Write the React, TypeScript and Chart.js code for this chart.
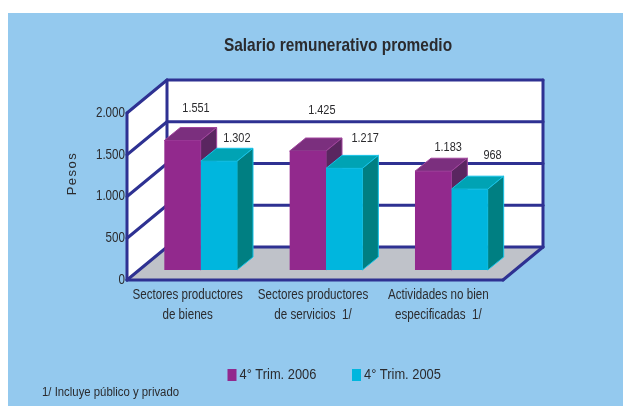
import React, { useEffect, useRef } from "react";
import { Chart, registerables } from "chart.js";

Chart.register(...registerables);

const categories = [
  ["Sectores productores", "de bienes"],
  ["Sectores productores", "de servicios  1/"],
  ["Actividades no bien", "especificadas  1/"],
];
const series2006 = [1551, 1425, 1183];
const series2005 = [1302, 1217, 968];
const label2006 = "4° Trim. 2006";
const label2005 = "4° Trim. 2005";
const titleText = "Salario remunerativo promedio";
const yTitle = "Pesos";
const footnote = "1/ Incluye público y privado";

const FONT = '"Liberation Sans", sans-serif';
const CONDENSE = 0.83;
const INK = "#2b2b2e";
const WALL = "#2e3192";
// depth of the wall box and forward offset of the bars in it
const DX = 40, DY = -33;
const BAR_DX = 11, BAR_DY = -10;
const SIDE_DX = 16, SIDE_DY = -13;
// value label nudges relative to each bar's top centre: [dx, dy]
const labelNudge = [
  [[13.5, -32], [18, -23]],
  [[14, -41], [21, -30]],
  [[15, -24], [23, -34]],
];
const shades = [
  { top: "#7b2f7e", side: "#5a2660" },
  { top: "#00a3b4", side: "#007f82" },
];
const fmt = (v: number) =>
  v >= 1000 ? `${Math.floor(v / 1000)}.${String(v % 1000).padStart(3, "0")}` : String(v);

const poly = (ctx: any, pts: number[][], fill?: string, stroke?: string, w = 1) => {
  ctx.beginPath();
  pts.forEach(([x, y], i) => (i ? ctx.lineTo(x, y) : ctx.moveTo(x, y)));
  ctx.closePath();
  if (fill) { ctx.fillStyle = fill; ctx.fill(); }
  if (stroke) { ctx.strokeStyle = stroke; ctx.lineWidth = w; ctx.stroke(); }
};
const line = (ctx: any, x1: number, y1: number, x2: number, y2: number) => {
  ctx.beginPath(); ctx.moveTo(x1, y1); ctx.lineTo(x2, y2); ctx.stroke();
};

const box3d = {
  id: "box3d",
  beforeDatasetsDraw(chart: any) {
    const { ctx, chartArea: a, scales: { y } } = chart;
    const { left: l, right: r, top: t, bottom: b } = a;
    ctx.save();
    poly(ctx, [[l + DX, t + DY], [r + DX, t + DY], [r + DX, b + DY], [l + DX, b + DY]], "#ffffff");
    poly(ctx, [[l, t], [l + DX, t + DY], [l + DX, b + DY], [l, b]], "#ffffff");
    poly(ctx, [[l, b], [l + DX, b + DY], [r + DX, b + DY], [r, b]], "#bfc2c9");
    ctx.strokeStyle = WALL;
    ctx.lineCap = "round";
    ctx.lineWidth = 3;
    y.ticks.forEach((tk: any) => {
      const py = y.getPixelForValue(tk.value);
      line(ctx, l, py, l + DX, py + DY);
      line(ctx, l + DX, py + DY, r + DX, py + DY);
    });
    line(ctx, l, b, l, t);
    line(ctx, l + DX, b + DY, l + DX, t + DY);
    line(ctx, r + DX, b + DY, r + DX, t + DY);
    line(ctx, l, b, r, b);
    line(ctx, r, b, r + DX, b + DY);
    ctx.restore();
    ctx.save();
    ctx.translate(BAR_DX, BAR_DY);
    chart.data.datasets.forEach((ds: any, di: number) => {
      chart.getDatasetMeta(di).data.forEach((bar: any) => {
        const p = bar.getProps(["x", "y", "base", "width"], true);
        const L = p.x - p.width / 2, R = p.x + p.width / 2;
        poly(ctx, [[L, p.y], [L + SIDE_DX, p.y + SIDE_DY], [R + SIDE_DX, p.y + SIDE_DY], [R, p.y]], shades[di].top, ds.edge, 1);
        poly(ctx, [[R, p.y], [R + SIDE_DX, p.y + SIDE_DY], [R + SIDE_DX, p.base + SIDE_DY], [R, p.base]], shades[di].side, ds.edge, 1);
      });
    });
  },
  afterDatasetsDraw(chart: any) {
    const { ctx } = chart;
    ctx.restore();
    ctx.save();
    ctx.font = `13.2px ${FONT}`;
    ctx.fillStyle = INK;
    ctx.textAlign = "center";
    ctx.textBaseline = "middle";
    chart.data.datasets.forEach((ds: any, di: number) => {
      chart.getDatasetMeta(di).data.forEach((bar: any, i: number) => {
        const [nx, ny] = labelNudge[i][di];
        ctx.fillText(fmt(ds.data[i]), bar.x + BAR_DX + nx, bar.y + BAR_DY + ny);
      });
    });
    ctx.textAlign = "left";
    // legend row
    ctx.font = `15.5px ${FONT}`;
    chart.data.datasets.forEach((ds: any, di: number) => {
      const x = di === 0 ? 227.5 : 352;
      ctx.fillStyle = ds.backgroundColor;
      ctx.fillRect(x, 369, 9, 12);
      ctx.fillStyle = INK;
      ctx.fillText(ds.label, x + 12, 375);
    });
    ctx.font = `13.7px ${FONT}`;
    ctx.fillText(footnote, 42, 392);
    ctx.restore();
  },
};

const panel = {
  id: "panel",
  beforeDraw(chart: any) {
    const { ctx } = chart;
    ctx.fillStyle = "#ffffff";
    ctx.fillRect(0, 0, chart.width, chart.height);
    ctx.fillStyle = "#94c9ee";
    ctx.fillRect(8, 13, 615, 393);
    // the original's type is a condensed face: squeeze text horizontally
    if (!ctx.__condensed) {
      ctx.__condensed = true;
      const plain = ctx.fillText.bind(ctx);
      ctx.fillText = (s: string, x: number, y: number) => {
        if (s === yTitle) {
          // the axis title is wide-set and sits above the axis centre
          ctx.letterSpacing = "1.5px";
          plain(s, x + 23, y);
          ctx.letterSpacing = "0px";
          return;
        }
        ctx.save();
        ctx.translate(x, y);
        ctx.scale(CONDENSE, 1);
        plain(s, 0, 0);
        ctx.restore();
      };
    }
  },
};

export default function App() {
  const ref = useRef<HTMLCanvasElement>(null);
  useEffect(() => {
    document.body.style.margin = "0";
    const chart = new Chart(ref.current!, {
      type: "bar",
      data: {
        labels: categories,
        datasets: [
          { label: label2006, data: series2006, backgroundColor: "#92298d", edge: "#a0449c", categoryPercentage: 0.58, barPercentage: 1, yAxisID: "y" } as any,
          { label: label2005, data: series2005, backgroundColor: "#00b6de", edge: "#16c3e8", categoryPercentage: 0.58, barPercentage: 1, yAxisID: "y" } as any,
        ],
      },
      options: {
        responsive: false,
        animation: false,
        layout: { padding: { left: 53, right: 0, top: 0, bottom: 0 } },
        plugins: {
          tooltip: { enabled: false },
          legend: { display: false },
          title: {
            display: true,
            text: titleText,
            color: INK,
            font: { family: FONT, size: 18.6, weight: "bold", lineHeight: 1.2 },
            padding: { top: 35, bottom: 55.7 },
          },
        },
        scales: {
          x: {
            grid: { display: false, drawTicks: false },
            border: { display: false },
            ticks: { color: INK, font: { family: FONT, size: 14, lineHeight: 1.43 }, maxRotation: 0, autoSkip: false, padding: 5, labelOffset: -2 },
            afterFit(s: any) { s.height = 126; },
          },
          y: {
            min: 0,
            max: 2000,
            grid: { display: false, drawTicks: false },
            border: { display: false },
            ticks: {
              stepSize: 500,
              color: INK,
              padding: 2,
              font: { family: FONT, size: 14 },
              callback: (v: any) => fmt(v),
            },
            title: { display: true, text: yTitle, color: INK, font: { family: FONT, size: 13 }, padding: { top: 12, bottom: 0 } },
            afterFit(s: any) { s.width = 74; },
          },
          spacer: {
            position: "right",
            display: true,
            grid: { display: false, drawTicks: false },
            border: { display: false },
            ticks: { display: false },
            afterFit(s: any) { s.width = 120; },
          },
        },
      },
      plugins: [panel, box3d],
    } as any);
    return () => chart.destroy();
  }, []);
  return <canvas ref={ref} width={623} height={406} style={{ display: "block" }} />;
}
